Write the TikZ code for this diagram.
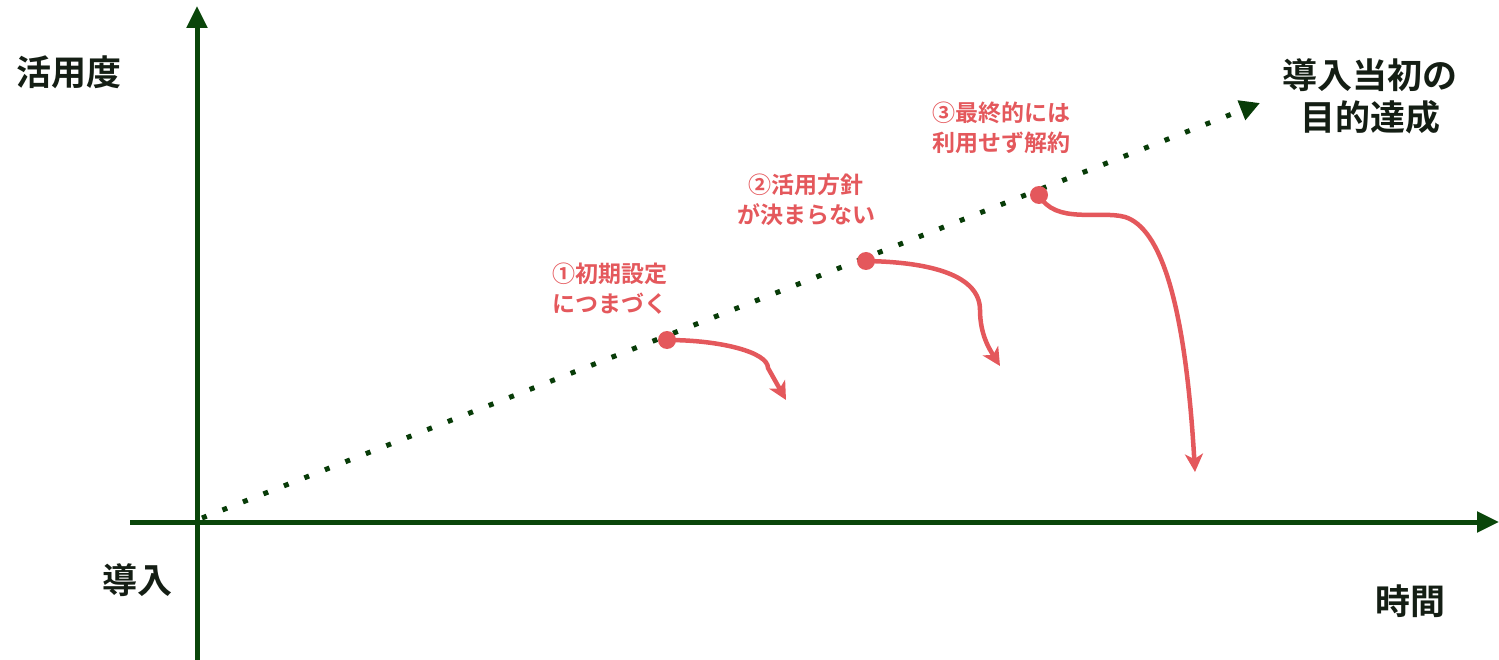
\documentclass[tikz,border=0pt]{standalone}
\usepackage{fontspec}
\setmainfont{Noto Sans CJK JP Bold}
\usetikzlibrary{arrows.meta}
\definecolor{axisgreen}{RGB}{10,70,10}
\definecolor{dotgreen}{RGB}{8,60,8}
\definecolor{cred}{RGB}{228,88,92}
\definecolor{txtblack}{RGB}{20,30,20}
\begin{document}
\begin{tikzpicture}[x=1pt,y=-1pt,
  axis/.style={draw=axisgreen,line width=5pt,-{Triangle[length=22pt,width=20pt]}},
  trend/.style={draw=dotgreen,line width=5pt,dash pattern=on 5pt off 17pt,-{Triangle[length=20pt,width=20pt]}},
  fall/.style={draw=cred,line width=4.5pt,-{Stealth[length=18pt,width=18pt,inset=5pt]}},
  pt/.style={circle,fill=cred,inner sep=0pt,minimum size=18pt},
  lbl/.style={font=\fontsize{35}{42}\selectfont,text=txtblack,inner sep=0pt,align=center},
  rlbl/.style={font=\fontsize{23}{30}\selectfont,text=cred,inner sep=0pt}
]
\useasboundingbox (0,0) rectangle (1499,660);
\coordinate (yb) at (197,660);
\coordinate (yt) at (197,6);
\coordinate (xl) at (130,522);
\coordinate (xr) at (1499,522);
\draw[axis] (yb) -- (yt);
\draw[axis] (xl) -- (xr);
\coordinate (t0) at (202,518);
\coordinate (t1) at (1260,103);
\draw[trend] (t0) -- (t1);

\node[pt] (p1) at (667,340) {};
\node[pt] (p2) at (866,261) {};
\node[pt] (p3) at (1039,195) {};
\coordinate (e1) at (786,400);
\coordinate (e2) at (1000,366);
\coordinate (e3) at (1195,472);
\draw[fall] (p1.center) .. controls (720,340) and (768,352) .. (768,368) -- (e1);
\draw[fall] (p2.center) .. controls (930,262) and (980,275) .. (980,310) .. controls (980,335) and (990,350) .. (e2);
\draw[fall] (p3.center) .. controls (1055,225) and (1100,210) .. (1125,217) .. controls (1160,228) and (1185,300) .. (e3);

\node[lbl] (ly) at (69,72) {活用度};
\node[lbl] (l0) at (137,580) {導入};
\node[lbl] (lx) at (1410,601) {時間};
\node[lbl] (lg) at (1370,96) {導入当初の\\目的達成};

\node[rlbl,align=left] (r1) at (610,289) {①初期設定\\につまづく};
\node[rlbl,align=center] (r2) at (806,200) {②活用方針\\が決まらない};
\node[rlbl,align=center] (r3) at (1001,128) {③最終的には\\利用せず解約};
\end{tikzpicture}
\end{document}
